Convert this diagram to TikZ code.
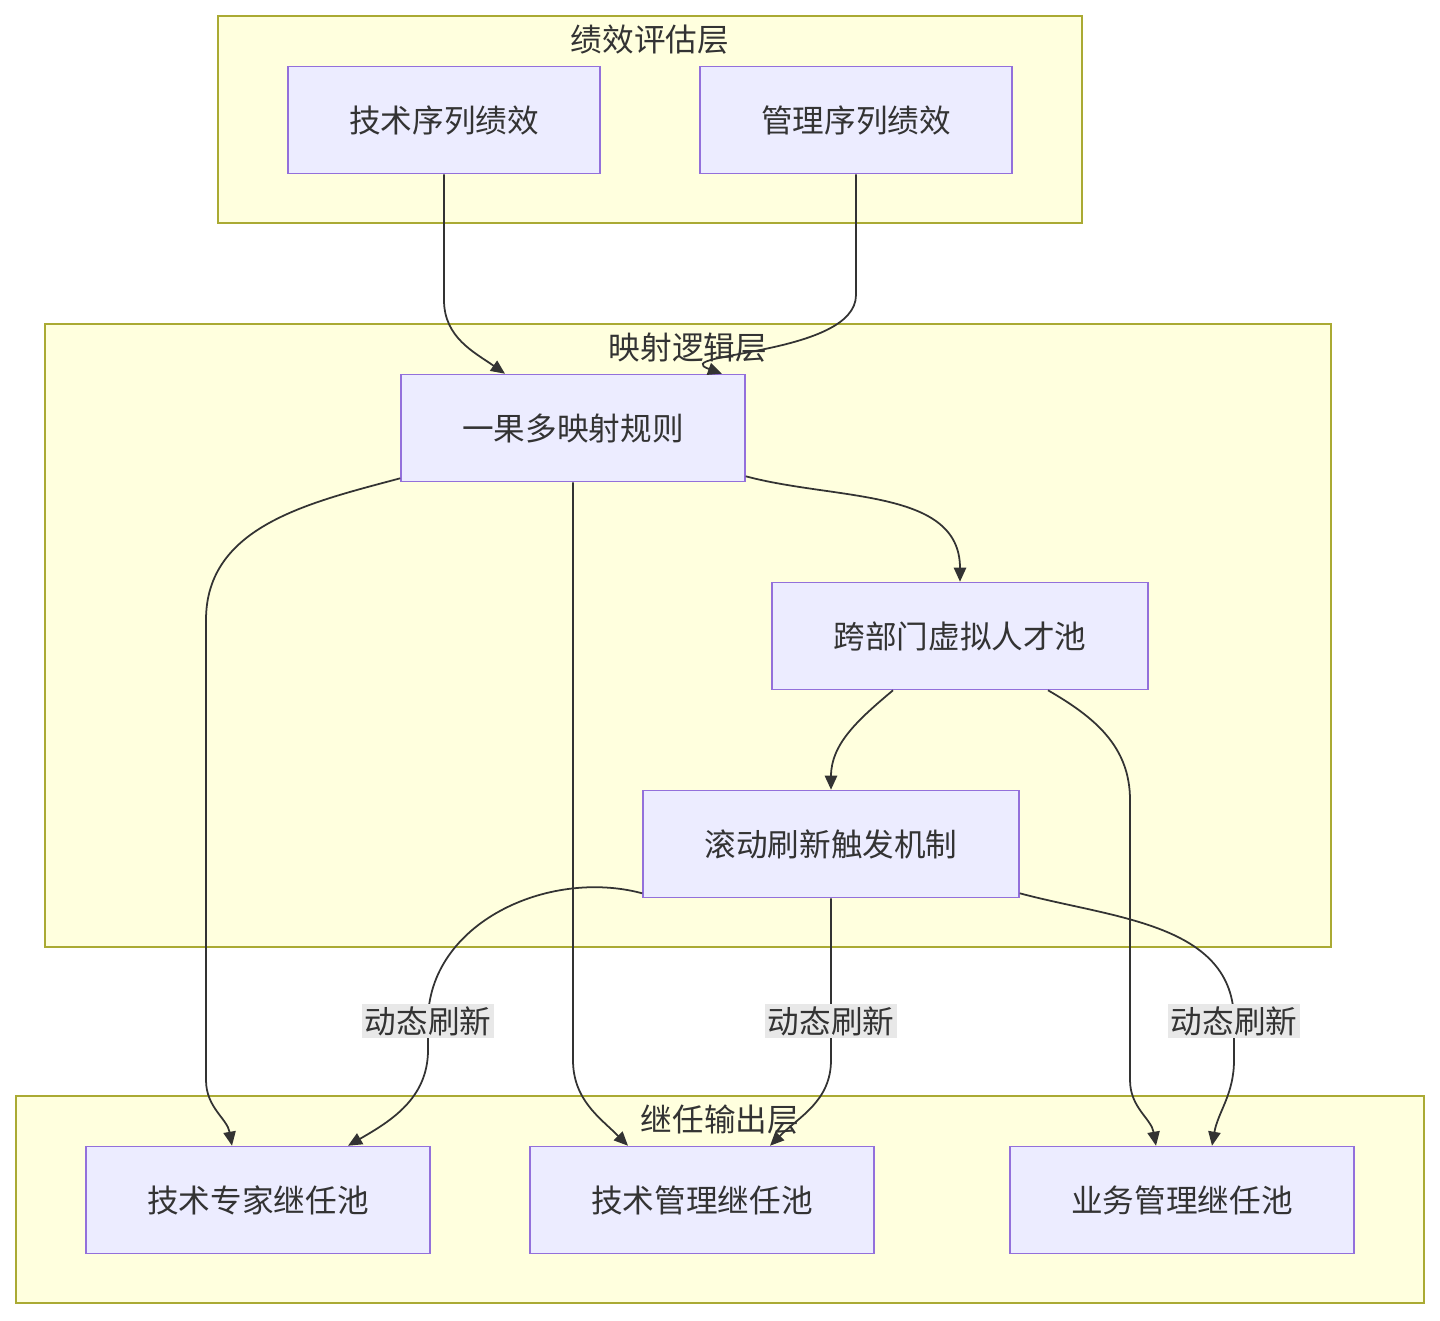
\documentclass[tikz,border=0pt]{standalone}
\usepackage{fontspec}
\setmainfont{Noto Sans CJK SC}
\usetikzlibrary{arrows.meta,positioning,calc}
\definecolor{grpfill}{HTML}{FFFFDE}
\definecolor{grpline}{HTML}{AAAA33}
\definecolor{boxfill}{HTML}{ECECFF}
\definecolor{boxline}{HTML}{9370DB}
\definecolor{ink}{HTML}{333333}
\definecolor{lblfill}{HTML}{E8E8E8}
\tikzset{
	grp/.style={draw=grpline,fill=grpfill,line width=0.9pt},
	box/.style={draw=boxline,fill=boxfill,line width=0.9pt,rectangle,align=center,minimum height=2.14cm,text=ink},
	title/.style={text=ink},
	lbl/.style={fill=lblfill,text=ink,inner sep=1.5pt},
	flow/.style={draw=ink,line width=1pt,-{Triangle[length=8pt,width=7pt]}}
}
\begin{document}
\begin{tikzpicture}[x=0.02cm,y=-0.02cm,font=\fontsize{18}{21}\selectfont]
			\useasboundingbox (0,0) rectangle (1440,1320);
			% groups
			\draw[grp] (218,16) rectangle (1082,223);
			\node[title] (t1) at (650,40) {绩效评估层};
			\draw[grp] (45,324) rectangle (1331,947);
			\node[title] (t2) at (688,348) {映射逻辑层};
			\draw[grp] (16,1096) rectangle (1424,1303);
			\node[title] (t3) at (720,1120) {继任输出层};
			% nodes
			\node[box,minimum width=6.24cm] (tp) at (444,120) {技术序列绩效};
			\node[box,minimum width=6.24cm] (mp) at (856,120) {管理序列绩效};
			\node[box,minimum width=6.88cm] (rule) at (573,428) {一果多映射规则};
			\node[box,minimum width=7.52cm] (pool) at (960,636) {跨部门虚拟人才池};
			\node[box,minimum width=7.52cm] (trig) at (831,844) {滚动刷新触发机制};
			\node[box,minimum width=6.88cm] (o1) at (258,1200) {技术专家继任池};
			\node[box,minimum width=6.88cm] (o2) at (702,1200) {技术管理继任池};
			\node[box,minimum width=6.88cm] (o3) at (1182,1200) {业务管理继任池};
			% edges
			\draw[flow] (tp.south) -- (444,300) to[out=-90,in=145] ($(rule.north)+(-68,0)$);
			\draw[flow] (mp.south) -- (856,295) to[out=-90,in=160] ($(rule.north)+(149,0)$);
			\draw[flow] ($(rule.south west)+(0,-4)$) to[out=195,in=90] (206,620) -- (206,1080) to[out=-90,in=100] ($(o1.north)+(-26,0)$);
			\draw[flow] (rule.south) -- (573,1060) to[out=-90,in=135] ($(o2.north)+(-74,0)$);
			\draw[flow] ($(rule.south east)+(0,-6)$) to[out=-15,in=90] (pool.north);
			\draw[flow] ($(pool.south)+(-67,0)$) to[out=-140,in=90] (trig.north);
			\draw[flow] ($(pool.south)+(88,0)$) to[out=-30,in=90] (1130,800) -- (1130,1080) to[out=-90,in=100] ($(o3.north)+(-26,0)$);
			\draw[flow] ($(trig.south west)+(0,-5)$) to[out=165,in=90] (428,1021) node[lbl] {动态刷新} -- (428,1050) to[out=-90,in=30] ($(o1.north)+(90,0)$);
			\draw[flow] (trig.south) -- (831,1021) node[lbl] {动态刷新} -- (831,1060) to[out=-90,in=45] ($(o2.north)+(68,0)$);
			\draw[flow] ($(trig.south east)+(0,-5)$) to[out=-15,in=90] (1234,1021) node[lbl] {动态刷新} -- (1234,1060) to[out=-90,in=80] ($(o3.north)+(30,0)$);
		\end{tikzpicture}
\end{document}
